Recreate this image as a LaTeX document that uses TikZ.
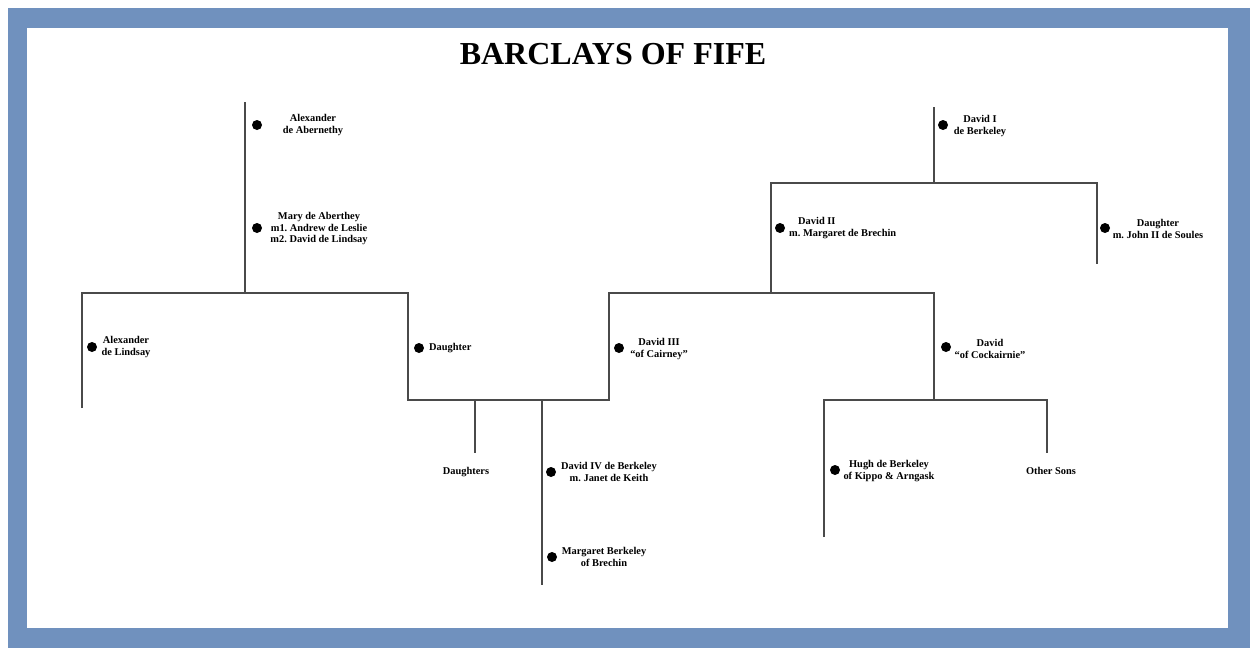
\documentclass[tikz,border=0pt]{standalone}
\usepackage{fontspec}
\setmainfont{Liberation Serif}
\definecolor{frameblue}{HTML}{7091BE}
\definecolor{linegray}{HTML}{4A4A4A}
\frenchspacing
\begin{document}
\begin{tikzpicture}[x=1pt,y=-1pt,
  line/.style={draw=linegray,line width=1.2pt},
  dot/.style={circle,fill=black,inner sep=0pt,minimum size=10pt},
  person/.style={font=\fontsize{10.4}{11.5}\selectfont\bfseries\frenchspacing,align=center,inner sep=0pt},
  personl/.style={font=\fontsize{10.4}{11.5}\selectfont\bfseries\frenchspacing,align=left,inner sep=0pt,anchor=west}]
\useasboundingbox (0,0) rectangle (1250,648);
\fill[white] (0,0) rectangle (1250,648);
\fill[frameblue] (8,8) rectangle (1250,648);
\fill[white] (27,28) rectangle (1228,628);
\node[font=\fontsize{32}{34}\selectfont\bfseries] (title) at (613,54) {BARCLAYS OF FIFE};
% coordinates
\coordinate (abtop) at (245,102);
\coordinate (abj) at (245,293);
\coordinate (lL) at (82,293);
\coordinate (lLb) at (82,408);
\coordinate (lR) at (408,293);
\coordinate (lRb) at (408,400);
\coordinate (mJ) at (609,400);
\coordinate (mT) at (609,293);
\coordinate (rJ) at (934,293);
\coordinate (d2) at (771,293);
\coordinate (d2t) at (771,183);
\coordinate (d1j) at (934,183);
\coordinate (d1top) at (934,107);
\coordinate (sR) at (1097,183);
\coordinate (sRb) at (1097,264);
\coordinate (cJ) at (934,400);
\coordinate (cL) at (824,400);
\coordinate (cLb) at (824,537);
\coordinate (cR) at (1047,400);
\coordinate (cRb) at (1047,453);
\coordinate (dsT) at (475,400);
\coordinate (dsB) at (475,453);
\coordinate (d4T) at (542,400);
\coordinate (d4B) at (542,585);
% lines
\draw[line] (abtop) -- (abj);
\draw[line] (lLb) -- (lL) -- (lR) -- (lRb) -- (mJ) -- (mT) -- (rJ) -- (cJ);
\draw[line] (d2) -- (d2t) -- (sR) -- (sRb);
\draw[line] (d1top) -- (d1j);
\draw[line] (cLb) -- (cL) -- (cR) -- (cRb);
\draw[line] (dsT) -- (dsB);
\draw[line] (d4T) -- (d4B);
% people
\node[dot] (b1) at (257,125) {};
\node[person] (t1) at (313,125) {Alexander\\de Abernethy};
\node[dot] (b2) at (257,228) {};
\node[person] (t2) at (319,229) {Mary de Aberthey\\m1. Andrew de Leslie\\m2. David de Lindsay};
\node[dot] (b3) at (92,347) {};
\node[person] (t3) at (126,347) {Alexander\\de Lindsay};
\node[dot] (b4) at (419,348) {};
\node[personl] (t4) at (429,348) {Daughter};
\node[dot] (b5) at (619,348) {};
\node[person] (t5) at (659,349) {David III\\``of Cairney''};
\node[dot] (b6) at (943,125) {};
\node[person] (t6) at (980,126) {David I\\de Berkeley};
\node[dot] (b7) at (780,228) {};
\node[personl] (t7) at (789,228) {\hspace*{9pt}David II\\m. Margaret de Brechin};
\node[dot] (b8) at (1105,228) {};
\node[person] (t8) at (1158,229) {Daughter\\m. John II de Soules};
\node[dot] (b9) at (946,347) {};
\node[person] (t9) at (990,349) {David\\``of Cockairnie''};
\node[dot] (b10) at (835,470) {};
\node[person] (t10) at (889,471) {Hugh de Berkeley\\of Kippo \& Arngask};
\node[person] (t11) at (1051,471) {Other Sons};
\node[person] (t12) at (466,472) {Daughters};
\node[dot] (b13) at (551,472) {};
\node[person] (t13) at (609,472) {David IV de Berkeley\\m. Janet de Keith};
\node[dot] (b14) at (552,557) {};
\node[person] (t14) at (604,557) {Margaret Berkeley\\of Brechin};
\end{tikzpicture}
\end{document}
